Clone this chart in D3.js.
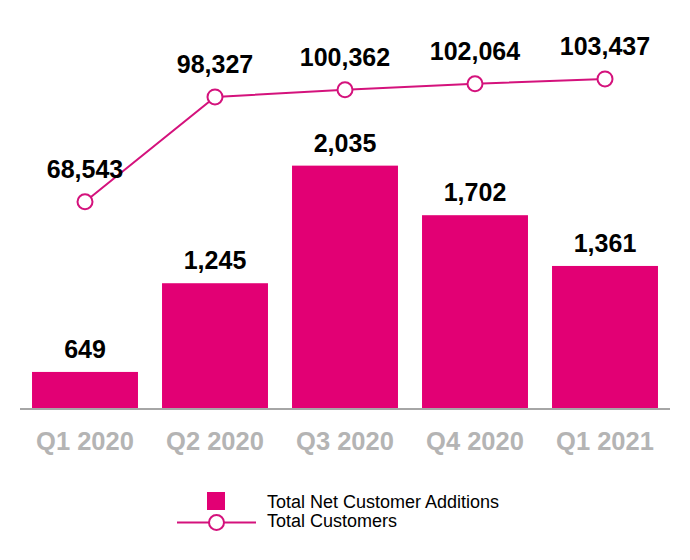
<!DOCTYPE html>
<html><head><meta charset="utf-8">
<script src="https://cdn.jsdelivr.net/npm/d3@7"></script>
<style>body{margin:0;background:#fff}svg{display:block}text{font-family:"Liberation Sans",Arial,sans-serif}</style>
</head><body><svg id="c" width="690" height="560"></svg>
<script>
const categories = ["Q1 2020","Q2 2020","Q3 2020","Q4 2020","Q1 2021"];
const netAdditions = [649,1245,2035,1702,1361];
const totalCustomers = [68543,98327,100362,102064,103437];
const seriesNames = ["Total Net Customer Additions","Total Customers"];

const magenta = "#E20074", lineCol = "#D4127C";
const svg = d3.select("#c");
const x = d3.scaleBand().domain(categories).range([20,670]).paddingInner(0.185).paddingOuter(0.0925);
const yBar = d3.scaleLinear().domain([400,3000]).range([409,22]);
const yLine = d3.scaleLinear().domain([10000,120000]).range([407.8,20.6]);
const fmt = d3.format(",");

// bars
svg.selectAll("rect.bar").data(netAdditions).enter().append("rect")
  .attr("x",(d,i)=>x(categories[i])).attr("width",x.bandwidth())
  .attr("y",d=>yBar(d)).attr("height",d=>yBar(400)-yBar(d)).attr("fill",magenta);
svg.selectAll("text.bl").data(netAdditions).enter().append("text")
  .attr("x",(d,i)=>x(categories[i])+x.bandwidth()/2).attr("y",d=>yBar(d)-14)
  .attr("text-anchor","middle").attr("font-size",25).attr("font-weight","bold").attr("fill","#000")
  .text(d=>fmt(d));

// axis
const xAxis = d3.axisBottom(x).tickSize(0).tickPadding(0);
const ax = svg.append("g").attr("transform","translate(0,409)").call(xAxis);
ax.select(".domain").attr("d","M20,0H670").attr("stroke","#a6a6a6").attr("stroke-width",2);
ax.selectAll(".tick text").attr("y",41).attr("dy",0).attr("font-size",25.5).attr("font-weight","bold")
  .attr("fill","#b4b4b4").attr("font-family","Liberation Sans, Arial, sans-serif");

// line
const cx = (i)=>x(categories[i])+x.bandwidth()/2;
const line = d3.line().x((d,i)=>cx(i)).y(d=>yLine(d));
svg.append("path").datum(totalCustomers).attr("d",line).attr("fill","none").attr("stroke",lineCol).attr("stroke-width",2);
svg.selectAll("circle.pt").data(totalCustomers).enter().append("circle")
  .attr("cx",(d,i)=>cx(i)).attr("cy",d=>yLine(d)).attr("r",7.5)
  .attr("fill","#fff").attr("stroke",lineCol).attr("stroke-width",2);
svg.selectAll("text.ll").data(totalCustomers).enter().append("text")
  .attr("x",(d,i)=>cx(i)).attr("y",d=>yLine(d)-24)
  .attr("text-anchor","middle").attr("font-size",25).attr("font-weight","bold").attr("fill","#000")
  .text(d=>fmt(d));

// legend
const lg = svg.append("g");
lg.append("rect").attr("x",207).attr("y",492).attr("width",18).attr("height",18).attr("fill",magenta);
lg.append("text").attr("x",267).attr("y",508).attr("font-size",18).attr("fill","#000").text(seriesNames[0]);
lg.append("line").attr("x1",177).attr("x2",256).attr("y1",522.5).attr("y2",522.5).attr("stroke",lineCol).attr("stroke-width",2);
lg.append("circle").attr("cx",216.5).attr("cy",522.5).attr("r",7.5).attr("fill","#fff").attr("stroke",lineCol).attr("stroke-width",2);
lg.append("text").attr("x",267).attr("y",527).attr("font-size",18).attr("fill","#000").text(seriesNames[1]);
</script></body></html>
